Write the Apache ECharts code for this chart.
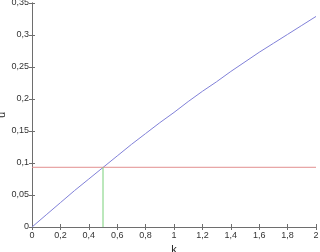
<!DOCTYPE html>
<html><head><meta charset="utf-8">
<script src="https://cdn.jsdelivr.net/npm/echarts@6/dist/echarts.min.js"></script>
<style>html,body{margin:0;padding:0;background:#fff}#c{width:320px;height:252px}</style>
</head><body><div id="c"></div>
<script>
const kValues = [0,0.1,0.2,0.3,0.4,0.5,0.6,0.7,0.8,0.9,1.0,1.1,1.2,1.3,1.4,1.5,1.6,1.7,1.8,1.9,2.0];
const uValues = [0,0.019,0.038,0.057,0.075,0.093,0.111,0.129,0.146,0.163,0.179,0.196,0.212,0.227,0.243,0.258,0.273,0.287,0.301,0.315,0.329];
const hLineK = [0, 2];
const hLineU = [0.0933, 0.0933];
const vLineK = [0.5, 0.5];
const vLineU = [0, 0.0933];
const xTicks = [0,0.2,0.4,0.6,0.8,1,1.2,1.4,1.6,1.8,2];
const yTicks = [0,0.05,0.1,0.15,0.2,0.25,0.3,0.35];

const zip = (a,b) => a.map((v,i)=>[v,b[i]]);
const fmt = v => String(+v.toFixed(2)).replace('.', ',');
const font = 'Liberation Sans, Arial, sans-serif';
const axColor = '#6e6e6e';
const chart = echarts.init(document.getElementById('c'));
const baseX = {type:'value', min:xTicks[0], max:xTicks[xTicks.length-1], interval:0.2,
  axisLine:{show:true, lineStyle:{color:axColor, width:1}},
  axisTick:{show:true, inside:true, length:3, lineStyle:{color:axColor}},
  splitLine:{show:false}};
const baseY = {type:'value', min:yTicks[0], max:yTicks[yTicks.length-1], interval:0.05,
  axisLine:{show:true, lineStyle:{color:axColor, width:1}},
  axisTick:{show:true, inside:true, length:3, lineStyle:{color:axColor}},
  splitLine:{show:false}};
chart.setOption({
  animation:false,
  backgroundColor:'#fff',
  grid:{left:32, right:4, top:3, bottom:25, containLabel:false, outerBoundsMode:'none'},
  xAxis:[
    Object.assign({}, baseX, {position:'bottom', name:'k', nameLocation:'middle', nameGap:17,
      nameMoveOverlap:false,
      nameTextStyle:{fontFamily:font, fontSize:11, color:'#222'},
      axisLabel:{formatter:fmt, fontFamily:font, fontSize:9, color:'#333', margin:4}}),
    Object.assign({}, baseX, {position:'top', axisLabel:{show:false}})
  ],
  yAxis:[
    Object.assign({}, baseY, {position:'left', name:'u', nameLocation:'middle', nameGap:25, nameRotate:90,
      nameMoveOverlap:false,
      nameTextStyle:{fontFamily:font, fontSize:11, color:'#222'},
      axisLabel:{formatter:fmt, fontFamily:font, fontSize:9, color:'#333', margin:3}}),
    Object.assign({}, baseY, {position:'right', axisLabel:{show:false}})
  ],
  series:[
    {type:'line', data:zip(kValues,uValues), showSymbol:false, smooth:false,
      lineStyle:{color:'#8080d8', width:1}, silent:true},
    {type:'line', data:zip(hLineK,hLineU), showSymbol:false,
      lineStyle:{color:'#e28f8f', width:1}, silent:true},
    {type:'line', data:zip(vLineK,vLineU), showSymbol:false,
      lineStyle:{color:'#78d078', width:1}, silent:true}
  ]
});
</script></body></html>
